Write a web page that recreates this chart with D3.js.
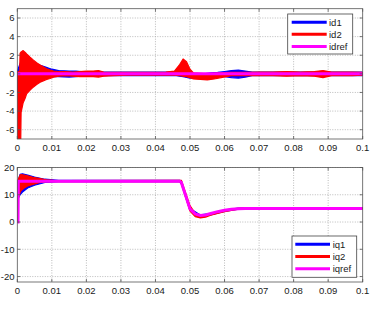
<!DOCTYPE html>
<html><head><meta charset="utf-8">
<script src="https://cdn.jsdelivr.net/npm/d3@7"></script>
<style>
html,body{margin:0;padding:0;background:#fff;}
svg text{font-family:"Liberation Sans",Arial,sans-serif;fill:#1a1a1a;}
</style></head>
<body><svg id="c" width="378" height="317"></svg>
<script>
// ---------- DATA ----------
const xTicks = [0,0.01,0.02,0.03,0.04,0.05,0.06,0.07,0.08,0.09,0.1];
const xTickLabels = ["0","0.01","0.02","0.03","0.04","0.05","0.06","0.07","0.08","0.09","0.1"];
const yTicksTop = [-6,-4,-2,0,2,4,6];
const yTicksBottom = [-20,-10,0,10,20];

// top panel: id (envelopes of the noisy traces)
const id2Time  = [0,0.0007,0.0008,0.0010,0.0011,0.0017,0.0023,0.0027,0.0037,0.0046,0.0056,0.0066,0.0075,0.0085,0.0095,0.0105,0.012,0.014,0.016,0.018,0.02,0.022,0.0235,0.025,0.028,0.032,0.036,0.04,0.043,0.0455,0.047,0.048,0.049,0.050,0.051,0.053,0.055,0.057,0.059,0.062,0.066,0.07,0.074,0.078,0.082,0.086,0.0885,0.091,0.094,0.097,0.1];
const id2Upper = [0.2,0.3,2.2,2.3,2.35,2.5,2.3,2.15,1.8,1.5,1.2,0.95,0.75,0.55,0.4,0.3,0.25,0.25,0.2,0.25,0.3,0.3,0.35,0.2,0.15,0.15,0.15,0.15,0.2,0.3,1.0,1.6,1.3,0.5,0.1,0.05,0.0,0.05,0.1,0.15,0.15,0.2,0.2,0.25,0.2,0.25,0.35,0.2,0.2,0.2,0.15];
const id2Lower = [-7,-7,-7,-7,-4.15,-3.1,-2.6,-2.15,-1.75,-1.43,-1.15,-0.9,-0.75,-0.6,-0.5,-0.35,-0.25,-0.2,-0.25,-0.3,-0.3,-0.3,-0.35,-0.25,-0.2,-0.15,-0.15,-0.15,-0.15,-0.15,-0.2,-0.25,-0.3,-0.4,-0.55,-0.6,-0.65,-0.55,-0.4,-0.2,-0.2,-0.2,-0.2,-0.25,-0.2,-0.25,-0.4,-0.2,-0.2,-0.2,-0.15];

const id1Time  = [0,0.001,0.003,0.006,0.008,0.01,0.012,0.015,0.017,0.02,0.03,0.04,0.046,0.048,0.05,0.052,0.054,0.056,0.058,0.06,0.062,0.064,0.066,0.068,0.07,0.08,0.09,0.1];
const id1Upper = [0.3,1.3,1.6,1.0,0.75,0.5,0.35,0.3,0.3,0.2,0.2,0.2,0.2,0.3,0.1,0,0,0.1,0.15,0.25,0.35,0.4,0.3,0.2,0.2,0.2,0.2,0.2];
const id1Lower = [-2,-1.5,-1.2,-0.7,-0.4,-0.3,-0.3,-0.35,-0.3,-0.2,-0.2,-0.2,-0.2,-0.3,-0.45,-0.45,-0.35,-0.2,-0.2,-0.3,-0.4,-0.45,-0.35,-0.2,-0.2,-0.2,-0.2,-0.2];

const idrefTime = [0,0.1];
const idrefVal  = [0,0];

// bottom panel: iq
const iq2Time  = [0,0.0001,0.0002,0.0008,0.0011,0.002,0.003,0.0045,0.0066,0.0085,0.0105,0.012,0.047,0.0475,0.05,0.0515,0.053,0.0545,0.056,0.058,0.06,0.062,0.064,0.066,0.07,0.1];
const iq2Upper = [0,0,15.5,17.2,17.4,17.2,16.9,16.4,15.9,15.5,15.3,15.2,15.3,15.3,6.0,3.2,2.4,2.6,3.1,3.8,4.3,4.7,5.0,5.2,5.2,5.2];
const iq2Lower = [0,0,8.3,10.8,11.5,12.5,13.2,13.8,14.5,14.8,14.9,14.8,14.8,14.0,4.0,2.0,1.5,1.8,2.5,3.2,3.8,4.3,4.7,4.8,4.8,4.8];

const iq1Time  = [0,0.0001,0.0002,0.0008,0.0015,0.003,0.005,0.008,0.012,0.047,0.0475,0.05,0.053,0.056,0.06,0.064,0.07,0.1];
const iq1Upper = [0,0,15,17.5,17.7,17.2,16.5,15.7,15.3,15.3,15.0,5.0,2.6,3.2,4.4,5.1,5.2,5.2];
const iq1Lower = [0,0,8.5,10,11,12.5,13.5,14.5,14.8,14.8,14.0,4.3,2.0,2.6,3.9,4.7,4.8,4.8];

const iqrefTime = [0,0.0002,0.0003,0.047,0.0475,0.05,0.0515,0.053,0.0545,0.056,0.058,0.06,0.062,0.064,0.066,0.07,0.08,0.1];
const iqrefVal  = [0,0,15,15,14.5,4.8,3.0,2.4,2.6,3.1,3.8,4.3,4.7,4.9,5.0,5.0,5.0,5.0];

const topLegend = ["id1","id2","idref"];
const bottomLegend = ["iq1","iq2","iqref"];
const colors = ["#0000ff","#ff0000","#ff00ff"];

// ---------- DRAW ----------
const svg = d3.select("#c");
const X0 = 17.3, X1 = 362.7;

function panel(cfg){
  const x = d3.scaleLinear().domain([0,0.1]).range([X0,X1]);
  const y = d3.scaleLinear().domain(cfg.yDomain).range([cfg.yBottom,cfg.yTop]);
  const g = svg.append("g");
  g.append("rect").attr("x",X0).attr("y",cfg.yTop).attr("width",X1-X0).attr("height",cfg.yBottom-cfg.yTop).attr("fill","#fff");
  const grid = g.append("g").attr("stroke","#aaa").attr("stroke-width",0.8).attr("stroke-dasharray","1,1.5");
  xTicks.forEach(t=>{ if(t>0 && t<0.1) grid.append("line").attr("x1",x(t)).attr("x2",x(t)).attr("y1",cfg.yTop).attr("y2",cfg.yBottom); });
  cfg.yTicks.forEach(v=>{ grid.append("line").attr("x1",X0).attr("x2",X1).attr("y1",y(v)).attr("y2",y(v)); });
  const clipId = "clip"+cfg.id;
  svg.append("clipPath").attr("id",clipId).append("rect").attr("x",X0).attr("y",cfg.yTop).attr("width",X1-X0).attr("height",cfg.yBottom-cfg.yTop);
  const s = g.append("g").attr("clip-path","url(#"+clipId+")");
  cfg.bands.forEach(b=>{
    const pts = b.t.map((t,i)=>[t,b.lo[i],b.hi[i]]);
    s.append("path").attr("d",d3.area().x(d=>x(d[0])).y0(d=>y(d[1])).y1(d=>y(d[2]))(pts))
      .attr("fill",b.color).attr("stroke",b.color).attr("stroke-width",1.2).attr("stroke-linejoin","round");
  });
  const rpts = cfg.ref.t.map((t,i)=>[t,cfg.ref.v[i]]);
  s.append("path").attr("d",d3.line().x(d=>x(d[0])).y(d=>y(d[1]))(rpts))
    .attr("fill","none").attr("stroke",colors[2]).attr("stroke-width",3);
  const ax = g.append("g").attr("stroke","#555").attr("stroke-width",0.8).attr("fill","none");
  ax.append("rect").attr("x",X0).attr("y",cfg.yTop).attr("width",X1-X0).attr("height",cfg.yBottom-cfg.yTop);
  const tl = 3;
  xTicks.forEach(t=>{
    ax.append("line").attr("x1",x(t)).attr("x2",x(t)).attr("y1",cfg.yBottom).attr("y2",cfg.yBottom-tl);
    ax.append("line").attr("x1",x(t)).attr("x2",x(t)).attr("y1",cfg.yTop).attr("y2",cfg.yTop+tl);
  });
  cfg.yTicks.forEach(v=>{
    ax.append("line").attr("x1",X0).attr("x2",X0+tl).attr("y1",y(v)).attr("y2",y(v));
    ax.append("line").attr("x1",X1).attr("x2",X1-tl).attr("y1",y(v)).attr("y2",y(v));
  });
  xTicks.forEach((t,i)=>{
    g.append("text").attr("x",x(t)).attr("y",cfg.yBottom+12).attr("text-anchor","middle").attr("font-size",9.5).text(xTickLabels[i]);
  });
  cfg.yTicks.forEach(v=>{
    g.append("text").attr("x",14.5).attr("y",y(v)+3.4).attr("text-anchor","end").attr("font-size",9.5).text(String(v));
  });
  const L = cfg.legend;
  const lg = g.append("g");
  lg.append("rect").attr("x",L.x).attr("y",L.y).attr("width",L.w).attr("height",L.h).attr("fill","#fff").attr("stroke","#444").attr("stroke-width",0.8);
  L.names.forEach((n,i)=>{
    const yy = L.rows[i];
    lg.append("line").attr("x1",L.lx0).attr("x2",L.lx1).attr("y1",yy).attr("y2",yy).attr("stroke",colors[i]).attr("stroke-width",3);
    lg.append("text").attr("x",L.tx).attr("y",yy+3.4).attr("font-size",9.5).text(n);
  });
}

panel({
  id:"top", yDomain:[-7,7], yTop:8.7, yBottom:139, yTicks:yTicksTop,
  bands:[{t:id1Time,lo:id1Lower,hi:id1Upper,color:colors[0]},{t:id2Time,lo:id2Lower,hi:id2Upper,color:colors[1]}],
  ref:{t:idrefTime,v:idrefVal},
  legend:{x:287.7,y:14,w:65,h:40,rows:[22.2,34.3,46.5],lx0:291.7,lx1:326.7,tx:329,names:topLegend}
});
panel({
  id:"bot", yDomain:[-22,20], yTop:167.5, yBottom:282, yTicks:yTicksBottom,
  bands:[{t:iq1Time,lo:iq1Lower,hi:iq1Upper,color:colors[0]},{t:iq2Time,lo:iq2Lower,hi:iq2Upper,color:colors[1]}],
  ref:{t:iqrefTime,v:iqrefVal},
  legend:{x:292,y:236,w:64.7,h:41.3,rows:[244.3,256.6,268.8],lx0:295.3,lx1:330,tx:332.7,names:bottomLegend}
});
</script></body></html>
